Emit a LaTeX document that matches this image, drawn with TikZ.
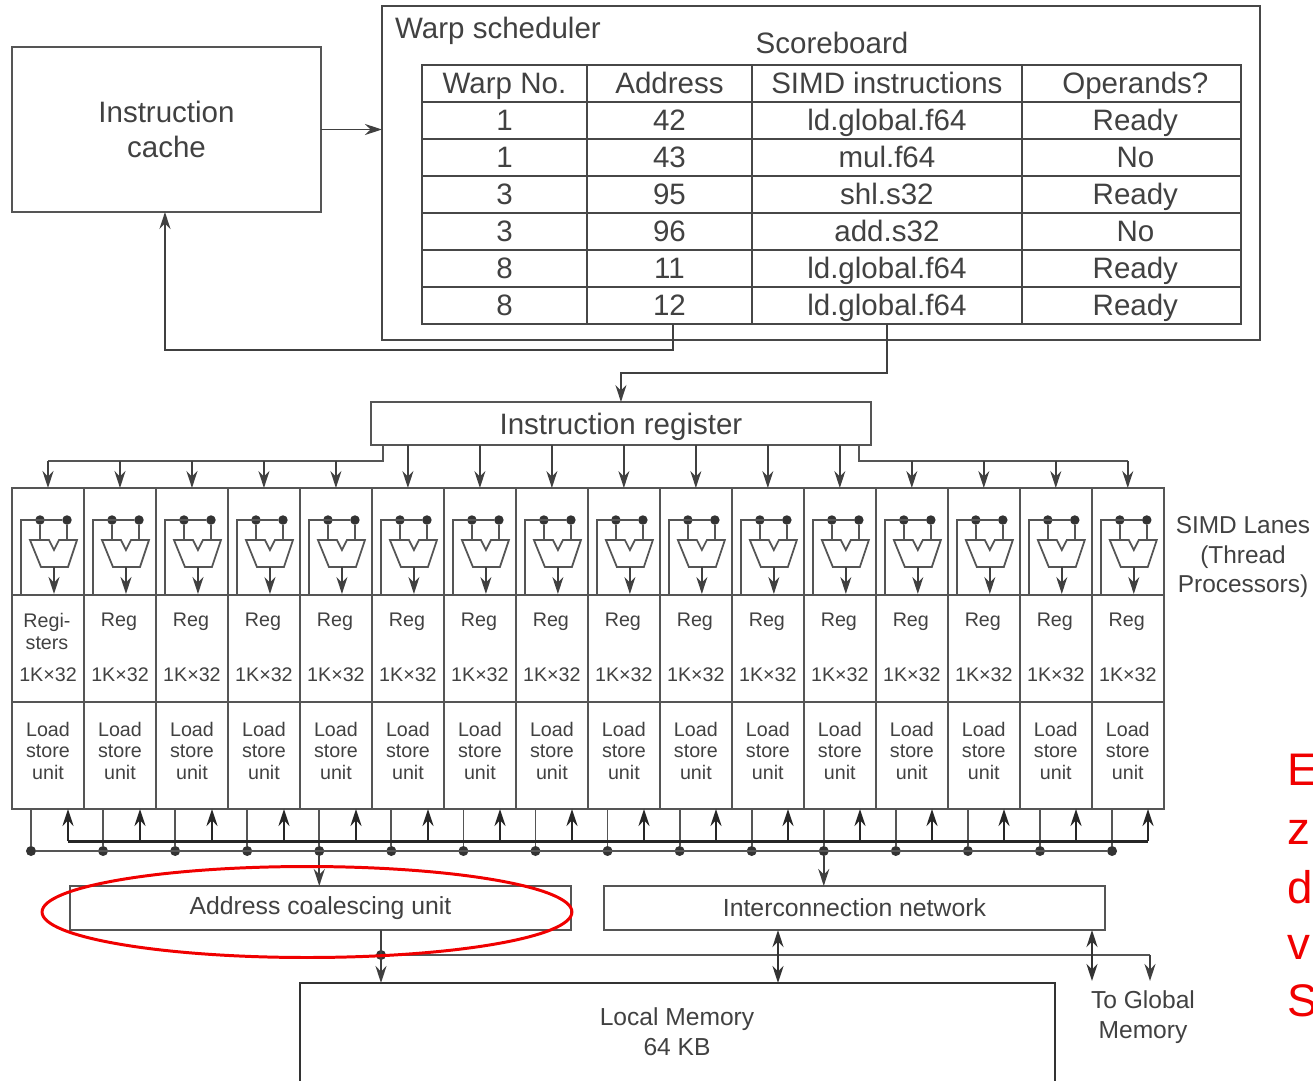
\documentclass[tikz,border=0pt]{standalone}
\usepackage{fontspec}
\setmainfont{Liberation Sans}
\usetikzlibrary{positioning, arrows.meta, shapes.geometric}
\definecolor{linegray}{RGB}{85,85,85}
\definecolor{textgray}{RGB}{65,65,65}
\definecolor{markred}{RGB}{240,0,0}

\begin{document}
\begin{tikzpicture}[
        x=0.02cm, y=-0.02cm,
        box/.style={rectangle, draw=linegray, line width=1pt, inner sep=0pt, outer sep=0pt, align=center, text=textgray},
        title/.style={font=\fontsize{16.8}{20}\selectfont, text=textgray, align=center},
        tabcell/.style={box, draw=black!72, line width=0.9pt, minimum height=0.74cm, text height=0.44cm, text depth=0.04cm, font=\fontsize{16.8}{20}\selectfont},
        lanecell/.style={box, minimum width=1.44cm},
        small/.style={font=\fontsize{11.2}{12.5}\selectfont, text=textgray, align=center, inner sep=0pt},
        wire/.style={linegray, line width=1pt},
        arrow/.style={-{Stealth[length=0.34cm,width=0.22cm]}, black!75, line width=1pt},
        bidir/.style={{Stealth[length=0.34cm,width=0.22cm]}-{Stealth[length=0.34cm,width=0.22cm]}, black!80, line width=1.4pt},
        busarrow/.style={-{Stealth[length=0.34cm,width=0.22cm]}, black!85, line width=1.4pt},
        dot/.style={circle, fill=black!80, inner sep=0pt, minimum size=0.2cm},
        redtext/.style={font=\fontsize{26}{30}\selectfont, text=markred, anchor=base west, inner sep=0pt},
    ]
    \useasboundingbox (0,0) rectangle (1313,1080);
    \clip (0,0) rectangle (1313,1080);

    % ===== Instruction cache and scheduler =====
    \node[box, anchor=north west, minimum width=6.18cm, minimum height=3.3cm, font=\fontsize{16.8}{19.8}\selectfont] (IC) at (12,47) {Instruction\\cache};
    \node[box, draw=black!72, line width=1.4pt, anchor=north west, minimum width=17.56cm, minimum height=6.68cm] (SCHED) at (382,6) {};
    \node[title, anchor=west] (SCHED_LABEL) at (389,31) {Warp scheduler};
    \node[title] (SB_LABEL) at (832,43) {Scoreboard};

    % ===== Scoreboard table =====
    \foreach \wno/\adr/\ins/\ops [count=\i] in {
        Warp No./Address/SIMD instructions/Operands?,
        1/42/ld.global.f64/Ready,
        1/43/mul.f64/No,
        3/95/shl.s32/Ready,
        3/96/add.s32/No,
        8/11/ld.global.f64/Ready,
        8/12/ld.global.f64/Ready} {
        \node[tabcell, minimum width=3.3cm, anchor=north west] (WARP\i) at (422,{65+37*(\i-1)}) {\wno};
        \node[tabcell, minimum width=3.3cm, right=0pt of WARP\i] (ADDR\i) {\adr};
        \node[tabcell, minimum width=5.4cm, right=0pt of ADDR\i] (INS\i) {\ins};
        \node[tabcell, minimum width=4.38cm, right=0pt of INS\i] (OPS\i) {\hspace*{0.16cm}\ops};
    }

    \node[box, anchor=north west, minimum width=10cm, minimum height=0.86cm, text height=0.46cm, text depth=0.02cm, font=\fontsize{16.8}{20}\selectfont] (IR) at (371,402) {Instruction register};

    \draw[arrow] (IC.east) -- (IC.east -| SCHED.west);
    \draw[arrow] ([xshift=0.07cm]ADDR7.south) -- ++(0,26) -| ([xshift=-0.03cm]IC.south);
    \draw[arrow] (INS7.south) -- ++(0,49) -| (IR.north);

    % ===== SIMD lanes =====
    \node[lanecell, minimum height=2.14cm, anchor=north west] (ALU0) at (12,488) {};
    \foreach \i [remember=\i as \prev (initially 0)] in {1,...,15}
        \node[lanecell, minimum height=2.14cm, right=0pt of ALU\prev] (ALU\i) {};
    \foreach \i in {0,...,15} {
        \node[lanecell, minimum height=2.14cm, below=0pt of ALU\i] (REG\i) {};
        \node[lanecell, minimum height=2.14cm, below=0pt of REG\i] (LSU\i) {};
        \node[small] (LOAD\i) at ([yshift=0.09cm]LSU\i.center) {Load\\store\\unit};
        \node[small, yshift=0.54cm] (SIZE\i) at (REG\i.south) {1K×32};
        % ALU glyph
        \begin{scope}[shift={(ALU\i.north west)}]
            \node[dot, minimum size=0.19cm] (DA\i) at (28,32) {};
            \node[dot, minimum size=0.19cm] (DB\i) at (55,32) {};
            \coordinate (FB\i) at (9,32);
            \coordinate (INA\i) at (28,52);
            \coordinate (INB\i) at (55,52);
            \coordinate (OUT\i) at (42,79);
            \coordinate (FBE\i) at (9,106);
            \coordinate (OUTE\i) at (42,106);
            \draw[wire, fill=white] (18,52) -- (37,52) -- (42,62) -- (47,52) -- (65,52) -- (56,79) -- (29,79) -- cycle;
        \end{scope}
        \draw[wire] (FBE\i) -- (FB\i) -- (DB\i);
        \draw[wire] (DA\i) -- (INA\i);
        \draw[wire] (DB\i) -- (INB\i);
        \draw[arrow] (OUT\i) -- (OUTE\i);
    }
    \node[small] (REGI0) at ([xshift=-0.02cm,yshift=-0.54cm]REG0.north) {Regi-};
    \node[small] (STERS0) at ([xshift=-0.02cm,yshift=-0.96cm]REG0.north) {sters};
    \foreach \i in {1,...,15}
        \node[small] (REGT\i) at ([xshift=-0.02cm,yshift=-0.54cm]REG\i.north) {Reg};

    \node[title, font=\fontsize{13.9}{17}\selectfont] (SIMD_LABEL) at (1243,557) {SIMD Lanes\\(Thread\\Processors)};

    % Register bus into the lanes
    \coordinate (IR_L) at (383,445);
    \coordinate (BUS_L) at (383,461);
    \coordinate (IR_R) at (859,445);
    \coordinate (BUS_R) at (859,461);
    \draw[wire] (IR_L) -- (BUS_L) -- (BUS_L -| ALU0.north);
    \draw[wire] (IR_R) -- (BUS_R) -- (BUS_R -| ALU15.north);
    \foreach \i in {0,...,4,12,13,14,15} {
        \ifnum\i<5
            \draw[arrow] (BUS_L -| ALU\i.north) -- (ALU\i.north);
        \else
            \draw[arrow] (BUS_R -| ALU\i.north) -- (ALU\i.north);
        \fi
    }
    \foreach \i in {5,...,11}
        \draw[arrow] (IR.south -| ALU\i.north) -- (ALU\i.north);

    % ===== Load/store buses =====
    \foreach \i in {0,...,15} {
        \node[dot] (DOT\i) at ({31+72.07*\i},851) {};
        \coordinate (UP\i) at ({68+72*\i},841);
        \draw[wire] (DOT\i |- LSU\i.south) -- (DOT\i);
        \draw[busarrow] (UP\i) -- (UP\i |- LSU\i.south);
    }
    \draw[wire] (DOT0) -- (DOT15);
    \draw[black!85, line width=1.7pt] (UP0) -- (UP15);

    \node[box, anchor=north west, minimum width=10.02cm, minimum height=0.88cm, font=\fontsize{14.1}{18}\selectfont] (ACU) at (70,886) {Address coalescing unit};
    \node[box, anchor=north west, minimum width=10.02cm, minimum height=0.88cm, font=\fontsize{14.1}{18}\selectfont] (ICN) at (604,886) {Interconnection network};
    \draw[arrow] (DOT4) -- (DOT4 |- ACU.north);
    \draw[arrow] (DOT11) -- (DOT11 |- ICN.north);

    % ===== Local memory =====
    \node[box, draw=black!80, anchor=north west, minimum width=15.1cm, minimum height=2.6cm] (MEM) at (300,983) {};
    \node[title, font=\fontsize{14}{17}\selectfont] (MEM_LABEL) at (677,1032) {Local Memory\\64 KB};
    \node[title, font=\fontsize{14}{17.3}\selectfont] (GM_LABEL) at (1143,1017) {To Global\\Memory};

    \node[dot] (JOIN) at (381,955) {};
    \coordinate (TEE) at (1150,955);
    \coordinate (GM_A) at (1092,981);
    \coordinate (GM_B) at (1150,981);
    \coordinate (ICN_A) at (778,930);
    \coordinate (ICN_B) at (1092,930);
    \draw[arrow] (JOIN |- ACU.south) -- (JOIN |- MEM.north);
    \draw[wire] (JOIN) -- (TEE);
    \draw[arrow] (TEE) -- (GM_B);
    \draw[bidir] (ICN_A) -- (ICN_A |- MEM.north);
    \draw[bidir] (ICN_B) -- (GM_A);

    % ===== Red markup =====
    \node[ellipse, draw=markred, line width=1.7pt, minimum width=10.6cm, minimum height=1.82cm, inner sep=0pt] (MARK) at (307,912) {};
    \node[redtext] (RED1) at (1287,785) {E};
    \node[redtext] (RED2) at (1287,844) {z};
    \node[redtext] (RED3) at (1287,903) {d};
    \node[redtext] (RED4) at (1287,959) {v};
    \node[redtext] (RED5) at (1287,1016) {S};

\end{tikzpicture}
\end{document}
